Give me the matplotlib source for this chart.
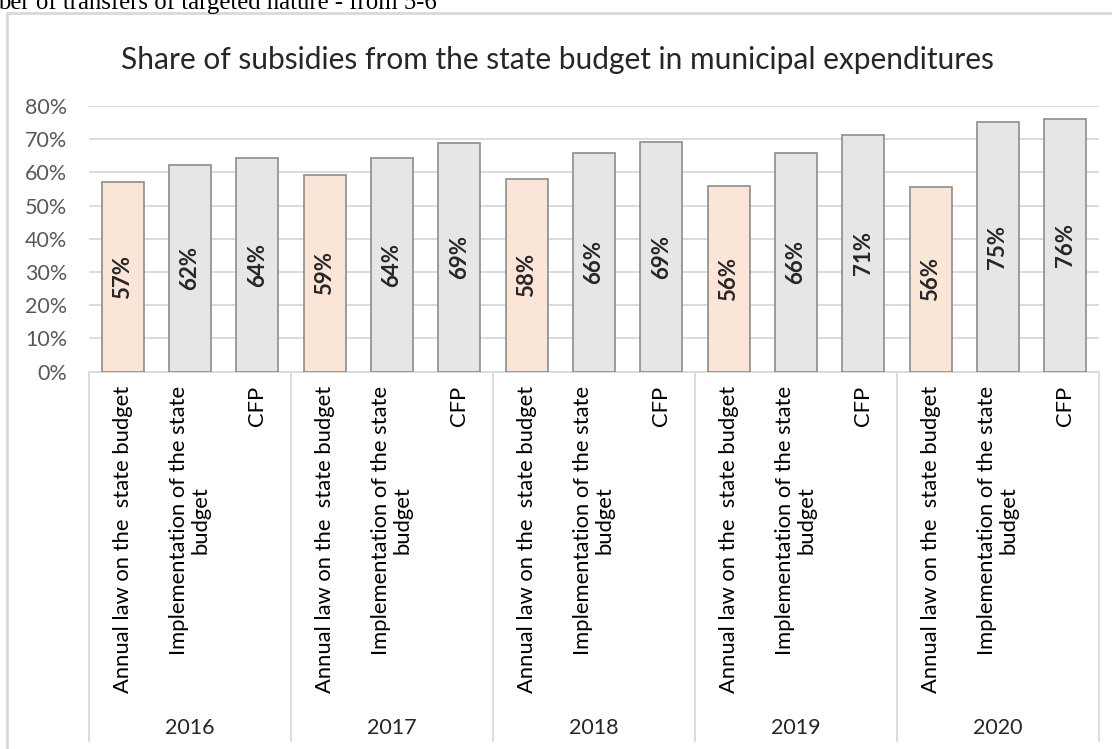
import matplotlib
matplotlib.use("Agg")
import matplotlib.pyplot as plt
from matplotlib.lines import Line2D

years = ["2016", "2017", "2018", "2019", "2020"]
categories = ["Annual law on the  state budget",
              "Implementation of the state\nbudget",
              "CFP"]
values = {
    "2016": [0.572, 0.622, 0.644],
    "2017": [0.592, 0.644, 0.690],
    "2018": [0.580, 0.659, 0.692],
    "2019": [0.558, 0.658, 0.712],
    "2020": [0.556, 0.752, 0.762],
}
yticks = [0.0, 0.1, 0.2, 0.3, 0.4, 0.5, 0.6, 0.7, 0.8]
title = "Share of subsidies from the state budget in municipal expenditures"
doc_text = "ber of transfers of targeted nature - from 5-6"

FONT = ["Lato", "DejaVu Sans"]
plt.rcParams["font.family"] = FONT

W, H = 1112, 749
fig = plt.figure(figsize=(W / 100, H / 100), dpi=100)

def fx(px):
    return px / W

def fy(py):
    return 1 - py / H

# plot area in pixels
L, R, T, B = 89, 1099, 106, 371.7
ax = fig.add_axes([fx(L), fy(B), fx(R) - fx(L), fy(T) - fy(B)])

colors = ["#FBE5D6", "#E7E6E6", "#E7E6E6"]
xs, hs, cs = [], [], []
for gi, y in enumerate(years):
    for ci, v in enumerate(values[y]):
        xs.append(gi * 3 + ci)
        hs.append(v)
        cs.append(colors[ci])

ax.bar(xs, hs, width=0.62, color=cs, edgecolor="#8C8C8C", linewidth=1.2, zorder=3)
for x, h in zip(xs, hs):
    ax.text(x, h / 2, f"{round(h * 100):d}%", rotation=90, ha="center", va="center",
            fontsize=16, fontweight="bold", color="#262626", zorder=4)

ax.set_xlim(-0.5, 14.5)
ax.set_ylim(0, 0.8)
ax.set_yticks(yticks)
ax.set_yticklabels([f"{int(round(t * 100))}%" for t in yticks], fontsize=15.5, color="#595959")
ax.tick_params(axis="y", length=0, pad=15.5)
ax.set_xticks([])
ax.yaxis.grid(True, color="#D9D9D9", linewidth=1.3, zorder=0)
for s in ax.spines.values():
    s.set_visible(False)
ax.set_axisbelow(True)

# category axis box: x in data, y in axes fraction
tr = ax.get_xaxis_transform()
ax_h = B - T
def ay(py):
    return (B - py) / ax_h

axis_bottom_px = 741
ax.plot([-0.5, 14.5], [0, 0], color="#D9D9D9", linewidth=1.3, clip_on=False,
        zorder=2, transform=tr)
for gi in range(len(years) + 1):
    xb = gi * 3 - 0.5
    ax.plot([xb, xb], [0, ay(axis_bottom_px)], color="#D9D9D9", linewidth=1.3,
            clip_on=False, zorder=2, transform=tr)

for gi, y in enumerate(years):
    for ci, c in enumerate(categories):
        ax.text(gi * 3 + ci, ay(386), c, rotation=90, ha="center", va="top",
                multialignment="center", fontsize=15.8, color="#000000",
                clip_on=False, linespacing=1.1, transform=tr)
    ax.text(gi * 3 + 1, ay(728), y, ha="center", va="center", fontsize=15.5,
            color="#262626", clip_on=False, transform=tr)

# title
fig.text(fx(557), fy(60), title, ha="center", va="center", fontsize=21.5, color="#262626")

# chart outer border
fig.add_artist(Line2D([fx(7), fx(1112)], [fy(13), fy(13)], transform=fig.transFigure,
                      color="#D9D9D9", linewidth=2))
fig.add_artist(Line2D([fx(7), fx(7)], [fy(13), fy(749)], transform=fig.transFigure,
                      color="#D9D9D9", linewidth=2))

# document text above chart (cut off by the image edge)
fig.text(fx(-2), fy(9), doc_text, ha="left", va="baseline", fontsize=17.8,
         family=["Liberation Serif"], color="black")

fig.savefig("out.png", dpi=100)
